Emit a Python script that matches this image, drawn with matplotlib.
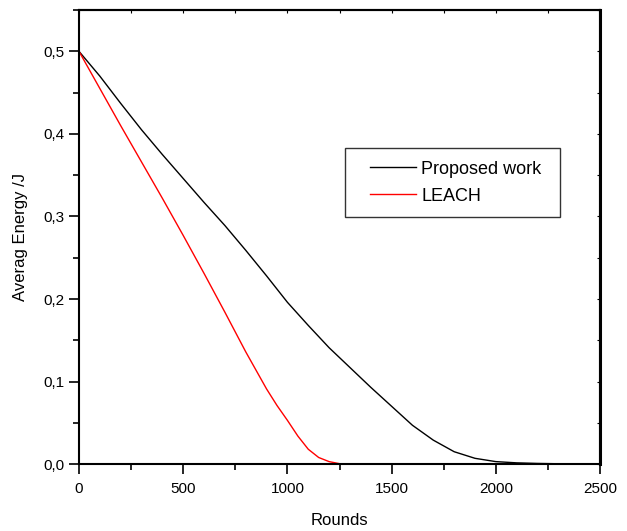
"""Average residual energy per round: proposed work vs LEACH."""

import matplotlib

matplotlib.use("Agg")
import matplotlib.pyplot as plt
from matplotlib.legend_handler import HandlerLine2D
from matplotlib.lines import Line2D
from matplotlib.ticker import FuncFormatter, MultipleLocator

plt.rcParams["font.family"] = ["Liberation Sans", "DejaVu Sans"]

# Proposed work
rounds_proposed = [0, 100, 200, 300, 400, 500, 600, 700, 800, 900, 1000, 1100,
                   1200, 1300, 1400, 1500, 1600, 1700, 1800, 1900, 2000, 2100,
                   2200, 2300, 2400, 2500]
energy_proposed = [0.500, 0.470, 0.437, 0.405, 0.375, 0.346, 0.317, 0.289,
                   0.259, 0.228, 0.196, 0.168, 0.141, 0.117, 0.093, 0.070,
                   0.047, 0.029, 0.015, 0.007, 0.003, 0.0015, 0.0008, 0.0004,
                   0.0002, 0.0001]

# LEACH
rounds_leach = [0, 100, 200, 300, 400, 500, 600, 700, 800, 900, 950, 1000,
                1050, 1100, 1150, 1200, 1250, 1300]
energy_leach = [0.500, 0.455, 0.410, 0.366, 0.322, 0.277, 0.231, 0.184, 0.136,
                0.091, 0.071, 0.053, 0.034, 0.018, 0.008, 0.003, 0.0005, 0.0]

fig = plt.figure(figsize=(6.27, 5.31), dpi=100)
ax = fig.add_axes([0.126, 0.126, 0.831, 0.855])

ax.plot(rounds_proposed, energy_proposed, color="black", lw=1.0, label="Proposed work")
ax.plot(rounds_leach, energy_leach, color="red", lw=1.0, label="LEACH")

ax.set_xlim(0, 2500)
ax.set_ylim(0, 0.55)
ax.xaxis.set_major_locator(MultipleLocator(500))
ax.xaxis.set_minor_locator(MultipleLocator(250))
ax.yaxis.set_major_locator(MultipleLocator(0.1))
ax.yaxis.set_minor_locator(MultipleLocator(0.05))
ax.yaxis.set_major_formatter(FuncFormatter(lambda v, p: f"{v:.1f}".replace(".", ",")))

ax.tick_params(which="major", direction="out", length=7, width=1.2, labelsize=11)
ax.tick_params(which="minor", direction="out", length=4, width=1.2)
ax.tick_params(axis="x", pad=6)

# small inward ticks mirrored on top and right
top = ax.secondary_xaxis("top")
top.xaxis.set_major_locator(MultipleLocator(250))
top.tick_params(direction="in", length=2, labeltop=False)
right = ax.secondary_yaxis("right")
right.yaxis.set_major_locator(MultipleLocator(0.05))
right.tick_params(direction="in", length=2, labelright=False)

for s in ax.spines.values():
    s.set_linewidth(1.5)
top.spines["top"].set_linewidth(1.5)
right.spines["right"].set_linewidth(2.2)

ax.set_xlabel("Rounds", fontsize=12, labelpad=12)
ax.set_ylabel("Averag Energy /J", fontsize=12, labelpad=11)

leg = ax.legend(loc="upper left", bbox_to_anchor=(0.511, 0.596, 0.413, 0.1),
                mode="expand", fontsize=13,
                frameon=True, fancybox=False, edgecolor="black",
                handlelength=3.2, handletextpad=0.3, borderpad=0.7,
                labelspacing=0.55, borderaxespad=0,
                handler_map={Line2D: HandlerLine2D(xpad=0.67)})
leg.get_frame().set_linewidth(1.0)

fig.savefig("out.png", dpi=100)
